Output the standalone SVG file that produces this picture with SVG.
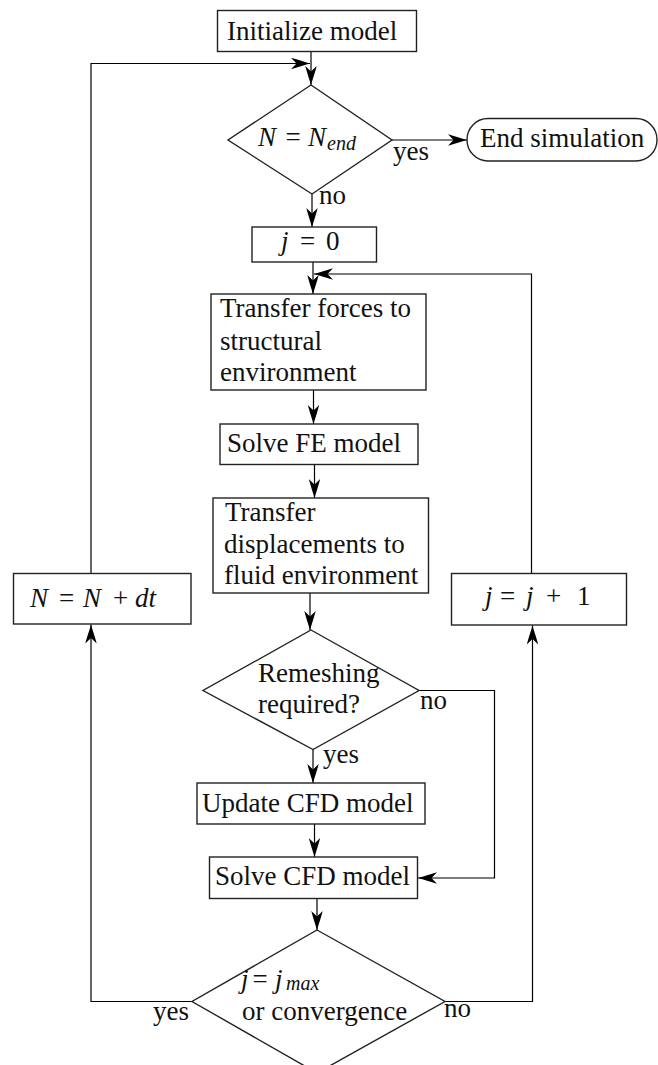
<svg xmlns="http://www.w3.org/2000/svg" width="658" height="1065" viewBox="0 0 658 1065" font-family="Liberation Serif, DejaVu Serif, serif">
<style>
  .box { fill: #fff; stroke: #222; stroke-width: 1.4; }
  .con { fill: none; stroke: #000; stroke-width: 1.2; }
  text { font-family: "Liberation Serif", "DejaVu Serif", serif; font-size: 27px; fill: #111; }
  .it { font-style: italic; }
  .sub { font-style: italic; font-size: 20px; }
</style>
<defs>
  <marker id="arr" markerUnits="userSpaceOnUse" markerWidth="20" markerHeight="12" viewBox="0 0 20 12" refX="19.5" refY="6" orient="auto">
    <path d="M19.5,6 C14,4.4 7,2 0.5,0.3 L6,6 L0.5,11.7 C7,10 14,7.6 19.5,6 Z" fill="#000"/>
  </marker>
</defs>
<rect width="658" height="1065" fill="#fff"/>

<g id="connectors">
  <path class="con" d="M311,52 V85" marker-end="url(#arr)"/>
  <path class="con" d="M91,573.5 V63.5 H310" marker-end="url(#arr)"/>
  <path class="con" d="M392,140 H467" marker-end="url(#arr)"/>
  <path class="con" d="M312,194 V227" marker-end="url(#arr)"/>
  <path class="con" d="M313,262 V294" marker-end="url(#arr)"/>
  <path class="con" d="M531.5,573.5 V274 H314" marker-end="url(#arr)"/>
  <path class="con" d="M313.5,390 V424" marker-end="url(#arr)"/>
  <path class="con" d="M314.5,464.5 V498" marker-end="url(#arr)"/>
  <path class="con" d="M310,593 V630" marker-end="url(#arr)"/>
  <path class="con" d="M313,749.5 V783" marker-end="url(#arr)"/>
  <path class="con" d="M419,690.5 H494.5 V878 H418" marker-end="url(#arr)"/>
  <path class="con" d="M314.5,824 V857" marker-end="url(#arr)"/>
  <path class="con" d="M317,898.5 V930" marker-end="url(#arr)"/>
  <path class="con" d="M192,1001.5 H91 V624.5" marker-end="url(#arr)"/>
  <path class="con" d="M445,1001.5 H532.5 V625.5" marker-end="url(#arr)"/>
  <text x="393" y="160">yes</text>
  <text x="319" y="204">no</text>
  <text x="420" y="709">no</text>
  <text x="323" y="763">yes</text>
  <text x="153" y="1020">yes</text>
  <text x="444" y="1017">no</text>
</g>

<g id="init">
  <rect class="box" x="217.5" y="10.5" width="199" height="41"/>
  <text x="227" y="39.5">Initialize model</text>
</g>

<g id="check-end">
  <polygon class="box" points="311,85 392,140 312,194 228,140"/>
  <text y="146"><tspan class="it" x="258">N</tspan><tspan x="285.5">=</tspan><tspan class="it" x="308">N</tspan><tspan class="sub" x="327" dy="4">end</tspan></text>
</g>

<g id="end">
  <rect class="box" x="467" y="118.5" width="190" height="42.5" rx="21" ry="21"/>
  <text x="480" y="147">End simulation</text>
</g>

<g id="j0">
  <rect class="box" x="252" y="227" width="124.5" height="35"/>
  <text y="250"><tspan class="it" x="281">j</tspan><tspan x="300">=</tspan><tspan x="326">0</tspan></text>
</g>

<g id="transfer-forces">
  <rect class="box" x="211" y="294" width="215" height="96"/>
  <text x="220" y="317">Transfer forces to</text>
  <text x="220" y="350">structural</text>
  <text x="220" y="381">environment</text>
</g>

<g id="solve-fe">
  <rect class="box" x="220" y="424" width="198" height="40.5"/>
  <text x="227" y="452">Solve FE model</text>
</g>

<g id="transfer-disp">
  <rect class="box" x="213" y="498" width="215.5" height="95"/>
  <text x="225" y="521">Transfer</text>
  <text x="224" y="553">displacements to</text>
  <text x="224" y="584">fluid environment</text>
</g>

<g id="remesh">
  <polygon class="box" points="311,630 419,690.5 313,749.5 203,690.5"/>
  <text x="258" y="682">Remeshing</text>
  <text x="258" y="713">required?</text>
</g>

<g id="update-cfd">
  <rect class="box" x="197" y="783" width="228" height="41"/>
  <text x="202" y="812">Update CFD model</text>
</g>

<g id="solve-cfd">
  <rect class="box" x="209.5" y="857" width="208" height="41.5"/>
  <text x="215" y="885">Solve CFD model</text>
</g>

<g id="convergence">
  <polygon class="box" points="317,930 445,1001.5 317,1073 192,1001.5"/>
  <text y="988"><tspan class="it" x="241">j</tspan><tspan x="252.5">=</tspan><tspan class="it" x="275">j</tspan><tspan class="sub" x="286" dy="2">max</tspan></text>
  <text x="242" y="1020">or convergence</text>
</g>

<g id="n-step">
  <rect class="box" x="13.5" y="573.5" width="177.5" height="50.5"/>
  <text y="607"><tspan class="it" x="30">N</tspan><tspan x="59">=</tspan><tspan class="it" x="83">N</tspan><tspan x="113">+</tspan><tspan class="it" x="135">dt</tspan></text>
</g>

<g id="j-step">
  <rect class="box" x="451.5" y="573.5" width="175" height="51.5"/>
  <text y="605"><tspan class="it" x="485">j</tspan><tspan x="500">=</tspan><tspan class="it" x="526">j</tspan><tspan x="546">+</tspan><tspan x="577">1</tspan></text>
</g>
</svg>
